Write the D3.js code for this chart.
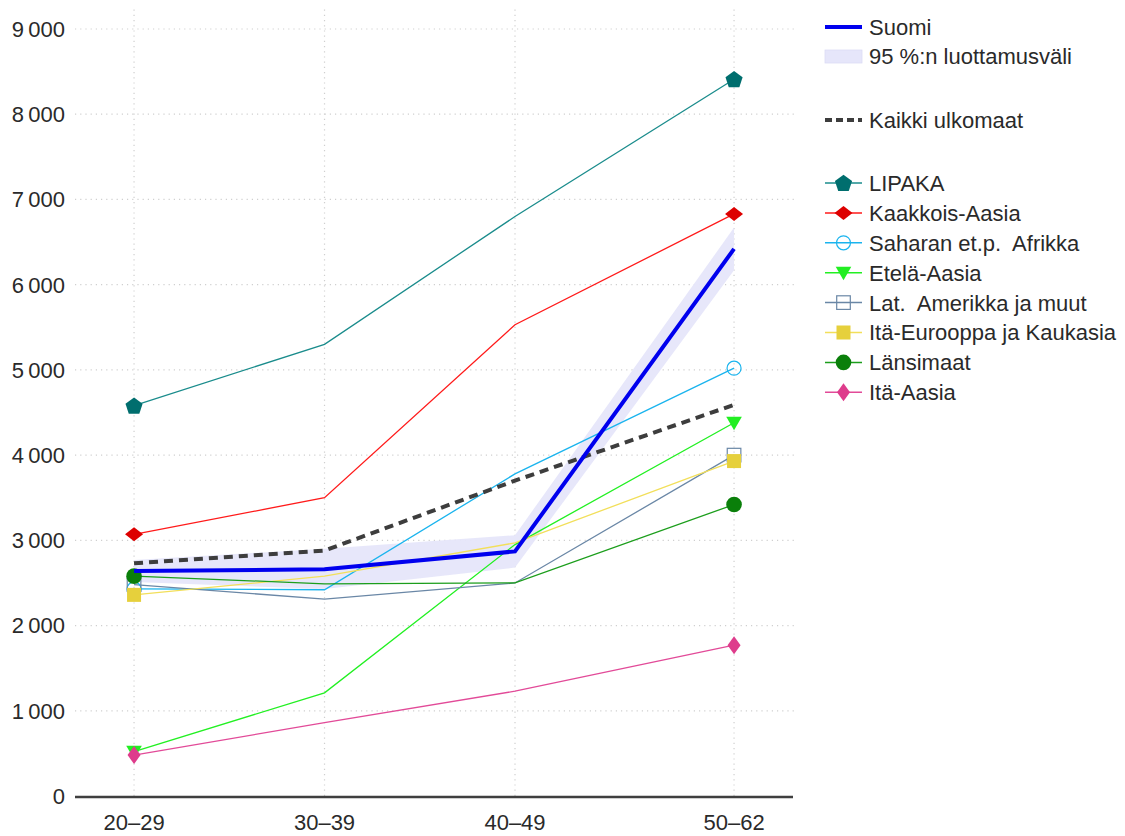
<!DOCTYPE html>
<html><head><meta charset="utf-8">
<script src="https://cdn.jsdelivr.net/npm/d3@7"></script>
<style>
html,body{margin:0;padding:0;background:#fff;}
svg{display:block;font-family:"Liberation Sans",Arial,Helvetica,sans-serif;}
text{white-space:pre;}
</style></head>
<body>
<script>
// ---- data ----
const ageGroups = ["20–29", "30–39", "40–49", "50–62"];
const ageMid = [24.5, 34.5, 44.5, 56];
const yTicks = [0, 1000, 2000, 3000, 4000, 5000, 6000, 7000, 8000, 9000];

const suomi = [2640, 2660, 2870, 6420];
const suomiLow = [2510, 2430, 2680, 6170];
const suomiHigh = [2770, 2900, 3060, 6670];
const kaikkiUlkomaat = [2730, 2880, 3700, 4590];

const lipaka = [4580, 5300, 6800, 8410];
const kaakkoisAasia = [3070, 3500, 5530, 6830];
const saharan = [2430, 2420, 3780, 5020];
const etelaAasia = [520, 1210, 2950, 4380];
const latAmerikka = [2480, 2310, 2500, 4000];
const itaEurooppa = [2360, 2580, 2970, 3930];
const lansimaat = [2580, 2490, 2500, 3420];
const itaAasia = [480, 860, 1230, 1770];

const groupNames = ["LIPAKA", "Kaakkois-Aasia", "Saharan et.p.  Afrikka", "Etelä-Aasia",
  "Lat.  Amerikka ja muut", "Itä-Eurooppa ja Kaukasia", "Länsimaat", "Itä-Aasia"];
const groupValues = [lipaka, kaakkoisAasia, saharan, etelaAasia, latAmerikka, itaEurooppa, lansimaat, itaAasia];
const groupLine = ["#1a8c8c", "#ff1a1a", "#1ab4ee", "#22f022", "#6a87a6", "#f2df5a", "#1c9e1c", "#e24a98"];
const groupMark = ["#006e6e", "#dd0000", "#1ab4ee", "#22ee22", "#6a87a6", "#e6d03c", "#0a7f0a", "#de3c8c"];
const groupShape = ["pentagon", "wdiamond", "ocircle", "tridown", "osquare", "square", "circle", "tdiamond"];

// ---- drawing ----
const W = 1125, H = 836;
const svg = d3.select("body").append("svg").attr("width", W).attr("height", H);

const x = d3.scaleLinear().domain([21.4, 59.2]).range([75, 795]);
const y = d3.scaleLinear().domain([0, 9000]).range([796, 29]);
const fmt = d3.formatLocale({decimal: ",", thousands: "\u2009", grouping: [3], currency: ["", ""]}).format(",d");

// grid
const grid = svg.append("g").attr("stroke", "#cfcfcf").attr("stroke-width", 1.2).attr("stroke-dasharray", "1.2,4");
grid.selectAll("line.h").data(yTicks.slice(1)).join("line")
  .attr("x1", 75).attr("x2", 795).attr("y1", d => y(d)).attr("y2", d => y(d));
grid.selectAll("line.v").data(ageMid).join("line")
  .attr("x1", d => x(d)).attr("x2", d => x(d)).attr("y1", 796).attr("y2", 8);

// y tick labels
svg.append("g").selectAll("text").data(yTicks).join("text")
  .attr("x", 65).attr("y", d => y(d)).attr("dy", "0.36em")
  .attr("text-anchor", "end").attr("font-size", 22).attr("fill", "#2a2a2a")
  .text(d => fmt(d));

// x tick labels
svg.append("g").selectAll("text").data(ageGroups).join("text")
  .attr("x", (d, i) => x(ageMid[i])).attr("y", 830)
  .attr("text-anchor", "middle").attr("font-size", 22).attr("fill", "#2a2a2a")
  .text(d => d);

// CI band
const band = d3.area().x((d, i) => x(ageMid[i])).y0((d, i) => y(suomiLow[i])).y1((d, i) => y(suomiHigh[i]));
svg.append("path").datum(suomi).attr("d", band).attr("fill", "#e6e6fa").attr("fill-opacity", 0.95);

const line = d3.line().x((d, i) => x(ageMid[i])).y(d => y(d));

// group lines
svg.append("g").selectAll("path").data(groupValues).join("path")
  .attr("d", d => line(d)).attr("fill", "none")
  .attr("stroke", (d, i) => groupLine[i]).attr("stroke-width", 1.3);

// marker drawing
function marker(g, shape, fill, cx, cy, s) {
  s = s || 1;
  if (shape === "pentagon") {
    const r = 9 * s;
    const pts = d3.range(5).map(k => {
      const a = -Math.PI / 2 + k * 2 * Math.PI / 5;
      return [cx + r * Math.cos(a), cy + r * Math.sin(a) + 0.8 * s];
    });
    g.append("polygon").attr("points", pts.map(p => p.join(",")).join(" ")).attr("fill", fill);
  } else if (shape === "wdiamond") {
    g.append("polygon").attr("points", [[cx - 9 * s, cy], [cx, cy - 7 * s], [cx + 9 * s, cy], [cx, cy + 7 * s]].map(p => p.join(",")).join(" ")).attr("fill", fill);
  } else if (shape === "tdiamond") {
    g.append("polygon").attr("points", [[cx - 6.5 * s, cy], [cx, cy - 9 * s], [cx + 6.5 * s, cy], [cx, cy + 9 * s]].map(p => p.join(",")).join(" ")).attr("fill", fill);
  } else if (shape === "ocircle") {
    g.append("circle").attr("cx", cx).attr("cy", cy).attr("r", 7 * s).attr("fill", "none").attr("stroke", fill).attr("stroke-width", 1.2);
  } else if (shape === "circle") {
    g.append("circle").attr("cx", cx).attr("cy", cy).attr("r", 7.8 * s).attr("fill", fill);
  } else if (shape === "tridown") {
    g.append("polygon").attr("points", [[cx - 7.8 * s, cy - 6 * s], [cx + 7.8 * s, cy - 6 * s], [cx, cy + 7.5 * s]].map(p => p.join(",")).join(" ")).attr("fill", fill);
  } else if (shape === "osquare") {
    g.append("rect").attr("x", cx - 6.8 * s).attr("y", cy - 6.8 * s).attr("width", 13.6 * s).attr("height", 13.6 * s)
      .attr("fill", "none").attr("stroke", fill).attr("stroke-width", 1.2);
  } else if (shape === "square") {
    g.append("rect").attr("x", cx - 7 * s).attr("y", cy - 7 * s).attr("width", 14 * s).attr("height", 14 * s).attr("fill", fill);
  }
}

// group markers at first and last point
const mg = svg.append("g");
groupValues.forEach((vals, i) => {
  [0, vals.length - 1].forEach(j => {
    marker(mg, groupShape[i], groupMark[i], x(ageMid[j]), y(vals[j]));
  });
});

// Kaikki ulkomaat dashed
svg.append("path").datum(kaikkiUlkomaat).attr("d", line).attr("fill", "none")
  .attr("stroke", "#3d3d3d").attr("stroke-width", 4).attr("stroke-dasharray", "9,6");

// Suomi
svg.append("path").datum(suomi).attr("d", line).attr("fill", "none")
  .attr("stroke", "#0000ee").attr("stroke-width", 4).attr("stroke-linejoin", "miter");

// bottom axis line
svg.append("line").attr("x1", 75).attr("x2", 793).attr("y1", 797).attr("y2", 797)
  .attr("stroke", "#3f3f3f").attr("stroke-width", 2.5);

// legend
const lg = svg.append("g").attr("font-size", 22).attr("fill", "#2a2a2a");
const lx0 = 825, lx1 = 862, ltx = 869;
function legendText(txt, yy) {
  lg.append("text").attr("x", ltx).attr("y", yy).attr("dy", "0.36em").attr("fill", "#2a2a2a").text(txt);
}
lg.append("line").attr("x1", lx0).attr("x2", lx1).attr("y1", 27).attr("y2", 27).attr("stroke", "#0000ee").attr("stroke-width", 4);
legendText("Suomi", 27);
lg.append("rect").attr("x", lx0).attr("y", 50).attr("width", lx1 - lx0).attr("height", 13).attr("fill", "#e6e6fa").attr("stroke", "#dcdcf4").attr("stroke-width", 0.8);
legendText("95 %:n luottamusväli", 56);
lg.append("line").attr("x1", lx0).attr("x2", lx1).attr("y1", 120).attr("y2", 120).attr("stroke", "#3d3d3d").attr("stroke-width", 4).attr("stroke-dasharray", "7,4");
legendText("Kaikki ulkomaat", 120);
groupNames.forEach((nm, i) => {
  const yy = 183 + i * 29.9;
  lg.append("line").attr("x1", lx0).attr("x2", lx1).attr("y1", yy).attr("y2", yy).attr("stroke", groupLine[i]).attr("stroke-width", 1.5);
  marker(lg, groupShape[i], groupMark[i], (lx0 + lx1) / 2, yy);
  legendText(nm, yy);
});
</script>
</body></html>
